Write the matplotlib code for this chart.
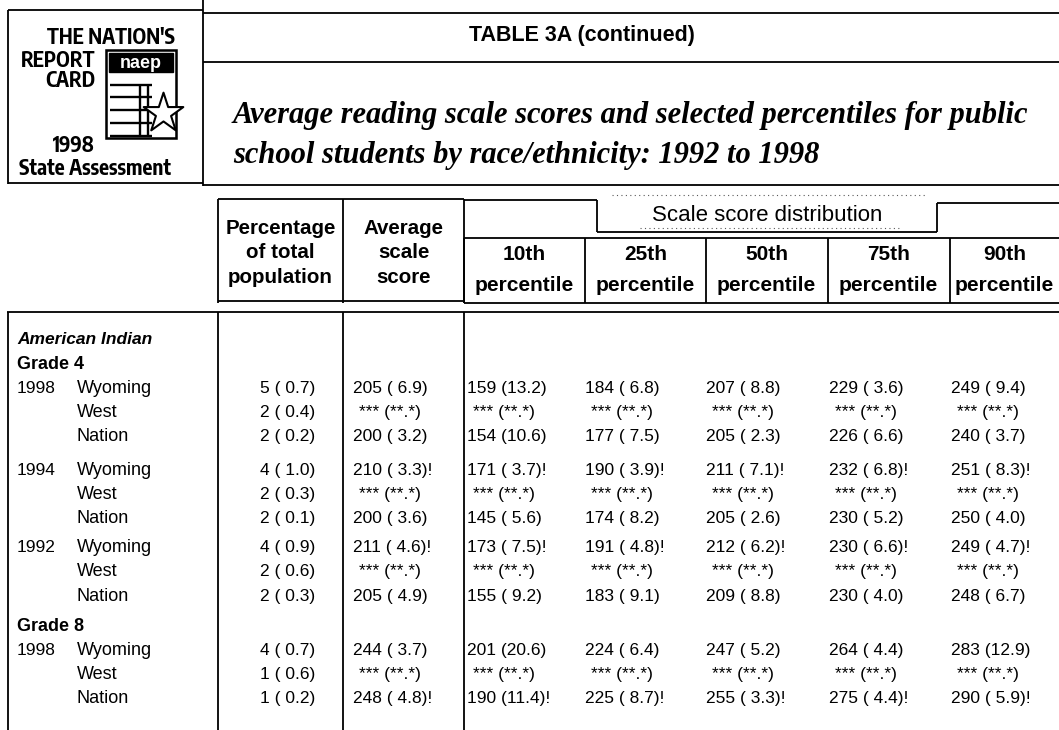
import matplotlib
matplotlib.use("Agg")
import matplotlib.pyplot as plt
from matplotlib.patches import Rectangle
from matplotlib import font_manager

# ---------------- data ----------------
title = "TABLE 3A (continued)"
subtitle = ["Average reading scale scores and selected percentiles for public",
            "school students by race/ethnicity: 1992 to 1998"]
group_label = "American Indian"
grades = ["Grade 4", "Grade 8"]
years = ["1998", "1994", "1992", "1998"]          # grade 4: 3 years, grade 8: 1 year
locations = ["Wyoming", "West", "Nation"]
col_headers = [["Percentage", "of total", "population"], ["Average", "scale", "score"]]
pct_headers = ["10th", "25th", "50th", "75th", "90th"]
dist_label = "Scale score distribution"

# percentage of total population (value, standard error)
pct_val = [5, 2, 2, 4, 2, 2, 4, 2, 2, 4, 1, 1]
pct_se = [0.7, 0.4, 0.2, 1.0, 0.3, 0.1, 0.9, 0.6, 0.3, 0.7, 0.6, 0.2]

# average scale score (None = reporting standards not met)
avg_val = [205, None, 200, 210, None, 200, 211, None, 205, 244, None, 248]
avg_se = [6.9, None, 3.2, 3.3, None, 3.6, 4.6, None, 4.9, 3.7, None, 4.8]
avg_flag = [0, 0, 0, 1, 0, 0, 1, 0, 0, 0, 0, 1]

p10_val = [159, None, 154, 171, None, 145, 173, None, 155, 201, None, 190]
p10_se = [13.2, None, 10.6, 3.7, None, 5.6, 7.5, None, 9.2, 20.6, None, 11.4]
p10_flag = [0, 0, 0, 1, 0, 0, 1, 0, 0, 0, 0, 1]

p25_val = [184, None, 177, 190, None, 174, 191, None, 183, 224, None, 225]
p25_se = [6.8, None, 7.5, 3.9, None, 8.2, 4.8, None, 9.1, 6.4, None, 8.7]
p25_flag = [0, 0, 0, 1, 0, 0, 1, 0, 0, 0, 0, 1]

p50_val = [207, None, 205, 211, None, 205, 212, None, 209, 247, None, 255]
p50_se = [8.8, None, 2.3, 7.1, None, 2.6, 6.2, None, 8.8, 5.2, None, 3.3]
p50_flag = [0, 0, 0, 1, 0, 0, 1, 0, 0, 0, 0, 1]

p75_val = [229, None, 226, 232, None, 230, 230, None, 230, 264, None, 275]
p75_se = [3.6, None, 6.6, 6.8, None, 5.2, 6.6, None, 4.0, 4.4, None, 4.4]
p75_flag = [0, 0, 0, 1, 0, 0, 1, 0, 0, 0, 0, 1]

p90_val = [249, None, 240, 251, None, 250, 249, None, 248, 283, None, 290]
p90_se = [9.4, None, 3.7, 8.3, None, 4.0, 4.7, None, 6.7, 12.9, None, 5.9]
p90_flag = [0, 0, 0, 1, 0, 0, 1, 0, 0, 0, 0, 1]

# ---------------- helpers ----------------
W, H = 1059, 730
fig = plt.figure(figsize=(W / 100, H / 100), dpi=100)
ax = fig.add_axes([0, 0, 1, 1])
ax.set_xlim(0, W)
ax.set_ylim(H, 0)
ax.axis("off")

SANS = ["Liberation Sans", "DejaVu Sans"]
SERIF = ["Liberation Serif", "DejaVu Serif"]
LW = 1.3

# look for a condensed bold face for the logo lettering
_names = {f.name for f in font_manager.fontManager.ttflist}
_cond = None
for _f in font_manager.fontManager.ttflist:
    if _f.name in ("Liberation Sans Narrow", "DejaVu Sans Condensed", "Roboto Condensed",
                   "Open Sans Condensed") or ("Condensed" in _f.name and "Sans" in _f.name):
        _cond = _f.name
        break
if _cond is None:
    for _f in font_manager.fontManager.ttflist:
        if _f.stretch in ("condensed", "semi-condensed", 500 - 125) and "Sans" in _f.name:
            _cond = _f.name
            break


def line(x0, y0, x1, y1, lw=LW, **kw):
    ax.plot([x0, x1], [y0, y1], color="black", lw=lw, solid_capstyle="butt", **kw)


def txt(x, y, s, fs, ha="left", weight="normal", style="normal", family=SANS, color="black",
        stretch="normal"):
    # y is the vertical centre of the capitals
    off = 0.716 * fs * 100 / 72 / 2
    ax.text(x, y + off, s, fontsize=fs, ha=ha, va="baseline", fontweight=weight,
            fontstyle=style, family=family, color=color, fontstretch=stretch)


def fmt(v, se, flag=0):
    if v is None:
        return "*** (**.*)"
    return f"{v} ({se:4.1f})" + ("!" if flag else "")


# ---------------- logo block ----------------
line(8, 10, 203, 10)
line(8, 10, 8, 184)
line(8, 183, 203, 183)
line(203, 0, 203, 186)
if _cond is not None:
    LFAM, LFS, LST = [_cond, "Liberation Sans"], 15, "condensed"
else:
    LFAM, LFS, LST = SANS, 12.5, "normal"
txt(175, 37, "THE NATION'S", LFS, ha="right", weight="bold", family=LFAM, stretch=LST)
txt(95, 60, "REPORT", LFS, ha="right", weight="bold", family=LFAM, stretch=LST)
txt(95, 80, "CARD", LFS, ha="right", weight="bold", family=LFAM, stretch=LST)
txt(95, 145, "1998", LFS, ha="right", weight="bold", family=LFAM, stretch=LST)
txt(95, 168, "State Assessment", LFS, ha="center", weight="bold", family=LFAM, stretch=LST)

# page graphic
ax.add_patch(Rectangle((106, 50), 70, 88, fill=False, lw=LW * 1.4, ec="black"))
ax.add_patch(Rectangle((109, 53), 64, 19, color="black"))
txt(141, 62, "naep", 13, ha="center", weight="bold", color="white")
for yy in [85, 97, 110, 123, 136]:
    line(110, yy, 152, yy, lw=1.7)
line(140, 84, 140, 137, lw=1.7)
line(148, 84, 148, 137, lw=1.7)
ax.scatter([163], [113], marker="*", s=900, facecolor="white", edgecolor="black",
           linewidths=1.5, zorder=5)

# ---------------- title block ----------------
line(203, 13, W, 13)
line(203, 62, W, 62)
line(203, 185, W, 185)
txt(582, 33, title, 15.5, ha="center", weight="bold")
ax.text(233, 115, subtitle[0], fontsize=22, ha="left", va="center",
        fontweight="bold", fontstyle="italic", family=SERIF)
ax.text(233, 156, subtitle[1], fontsize=22, ha="left", va="center",
        fontweight="bold", fontstyle="italic", family=SERIF)

# ---------------- table header ----------------
col_x = [218, 343, 464]
pct_x = [464, 585, 706, 828, 950, W]
# left header boxes
line(218, 199, 464, 199)
line(218, 301, 464, 301)
for xx in col_x:
    line(xx, 199, xx, 303)
# distribution group
line(464, 200, 597, 200)
line(937, 203, W, 203)
line(597, 200, 597, 232)
line(937, 203, 937, 232)
line(597, 232, 937, 232)
ax.plot([612, 925], [195, 195], color="0.35", lw=0.8, ls=(0, (1, 3)))
ax.plot([640, 900], [228, 228], color="0.35", lw=0.8, ls=(0, (1, 3)))
txt(767, 213, dist_label, 16, ha="center")
line(464, 238, W, 238)
line(464, 303, W, 303)
for xx in pct_x[:-1]:
    line(xx, 238, xx, 303)

for i, lines_ in enumerate(col_headers):
    cx = (col_x[i] + col_x[i + 1]) / 2
    for j, s in enumerate(lines_):
        txt(cx, [227, 251, 276][j], s, 14.8, ha="center", weight="bold")
for i, h in enumerate(pct_headers):
    cx = (pct_x[i] + min(pct_x[i + 1], pct_x[i] + 121)) / 2
    txt(cx, 253, h, 15, ha="center", weight="bold")
    txt(cx, 284, "percentile", 15, ha="center", weight="bold")

# ---------------- table body ----------------
line(7, 312, W, 312)
for xx in [8] + col_x:
    line(xx, 312, xx, H)

FS = 12.5
txt(17, 338, group_label, 12.5, weight="bold", style="italic")
txt(17, 363, grades[0], 13, weight="bold")
txt(17, 625, grades[1], 13, weight="bold")

row_y = [387, 411, 435, 469, 493, 517, 546, 570, 595, 649, 673, 697]
pct_left = [467, 585, 706, 829, 951]
cols = [(p10_val, p10_se, p10_flag), (p25_val, p25_se, p25_flag),
        (p50_val, p50_se, p50_flag), (p75_val, p75_se, p75_flag),
        (p90_val, p90_se, p90_flag)]

for r, y in enumerate(row_y):
    if r % 3 == 0:
        txt(17, y, years[r // 3], FS)
    txt(77, y, locations[r % 3], FS + 0.5)
    txt(315, y, fmt(pct_val[r], pct_se[r]), FS, ha="right")
    xa = 353 + (6 if avg_val[r] is None else 0)
    txt(xa, y, fmt(avg_val[r], avg_se[r], avg_flag[r]), FS)
    for c, (vals, ses, flags) in enumerate(cols):
        xx = pct_left[c] + (6 if vals[r] is None else 0)
        txt(xx, y, fmt(vals[r], ses[r], flags[r]), FS)

fig.savefig("out.png", dpi=100)
